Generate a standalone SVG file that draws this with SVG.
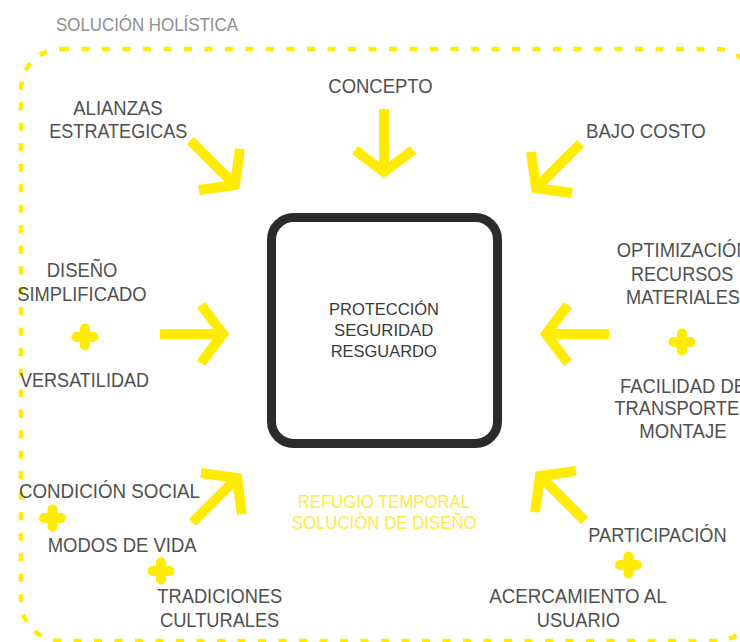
<svg xmlns="http://www.w3.org/2000/svg" xmlns:xlink="http://www.w3.org/1999/xlink" width="740" height="642" viewBox="0 0 740 642">
<style>
.lbl{font-family:"Liberation Sans",Arial,sans-serif;font-size:20px;fill:#505050;}
.box{font-family:"Liberation Sans",Arial,sans-serif;font-size:16.5px;fill:#3a3a3a;}
.ttl{font-family:"Liberation Sans",Arial,sans-serif;font-size:17.5px;fill:#8e8e8e;}
.ylw{font-family:"Liberation Sans",Arial,sans-serif;font-size:18.5px;fill:#FFE94A;}
.arr{fill:none;stroke:#FFEC00;stroke-width:10;stroke-linejoin:miter;stroke-miterlimit:4;}
.pls{fill:none;stroke:#FFEC00;stroke-width:10;stroke-linecap:round;}
</style>
<defs>
<path id="arw" class="arr" d="M-63,0H0M-22,-29L0,0L-22,29"/>
<path id="plus" class="pls" d="M-8.5,0H8.5M0,-8.5V8.5"/>
</defs>
<rect width="740" height="642" fill="#ffffff"/>
<g id="frame">
<rect x="21" y="49" width="735" height="592" rx="40" fill="none" stroke="#FFEC00" stroke-width="4.5" stroke-dasharray="8 12.5"/>
<text class="ttl" x="56" y="31" textLength="182" lengthAdjust="spacingAndGlyphs">SOLUCIÓN HOLÍSTICA</text>
</g>
<g id="center">
<rect x="271.5" y="217.5" width="226" height="226" rx="22" fill="#ffffff" stroke="#2b2b2b" stroke-width="9"/>
<text class="box" x="329" y="315" textLength="110" lengthAdjust="spacingAndGlyphs">PROTECCIÓN</text>
<text class="box" x="334" y="336" textLength="99.3" lengthAdjust="spacingAndGlyphs">SEGURIDAD</text>
<text class="box" x="330.7" y="357" textLength="106" lengthAdjust="spacingAndGlyphs">RESGUARDO</text>
<text class="ylw" x="297.7" y="508.3" textLength="172.3" lengthAdjust="spacingAndGlyphs">REFUGIO TEMPORAL</text>
<text class="ylw" x="291.7" y="529.3" textLength="185" lengthAdjust="spacingAndGlyphs">SOLUCIÓN DE DISEÑO</text>
</g>
<g id="concepto">
<text class="lbl" x="328.3" y="92.7" textLength="104.4" lengthAdjust="spacingAndGlyphs">CONCEPTO</text>
</g>
<g id="alianzas">
<text class="lbl" x="73.3" y="115" textLength="89.3" lengthAdjust="spacingAndGlyphs">ALIANZAS</text>
<text class="lbl" x="49.3" y="138.3" textLength="138" lengthAdjust="spacingAndGlyphs">ESTRATEGICAS</text>
</g>
<g id="bajo-costo">
<text class="lbl" x="586" y="138.3" textLength="119.7" lengthAdjust="spacingAndGlyphs">BAJO COSTO</text>
</g>
<g id="diseno">
<text class="lbl" x="46.7" y="276.7" textLength="70.7" lengthAdjust="spacingAndGlyphs">DISEÑO</text>
<text class="lbl" x="17.3" y="300.7" textLength="129.3" lengthAdjust="spacingAndGlyphs">SIMPLIFICADO</text>
<use xlink:href="#plus" href="#plus" x="85" y="337"/>
<text class="lbl" x="20" y="387.3" textLength="129" lengthAdjust="spacingAndGlyphs">VERSATILIDAD</text>
</g>
<g id="optimizacion">
<text class="lbl" x="616.7" y="256.7" textLength="133" lengthAdjust="spacingAndGlyphs">OPTIMIZACIÓN</text>
<text class="lbl" x="631" y="281" textLength="102.3" lengthAdjust="spacingAndGlyphs">RECURSOS</text>
<text class="lbl" x="626" y="304" textLength="114" lengthAdjust="spacingAndGlyphs">MATERIALES</text>
<use xlink:href="#plus" href="#plus" x="682" y="342"/>
<text class="lbl" x="620" y="392.7" textLength="126" lengthAdjust="spacingAndGlyphs">FACILIDAD DE</text>
<text class="lbl" x="614.3" y="415" textLength="142" lengthAdjust="spacingAndGlyphs">TRANSPORTE Y</text>
<text class="lbl" x="639.3" y="438.3" textLength="87.3" lengthAdjust="spacingAndGlyphs">MONTAJE</text>
</g>
<g id="condicion">
<text class="lbl" x="19" y="498.3" textLength="181" lengthAdjust="spacingAndGlyphs">CONDICIÓN SOCIAL</text>
<use xlink:href="#plus" href="#plus" x="52.5" y="518"/>
<text class="lbl" x="47.7" y="551.7" textLength="149" lengthAdjust="spacingAndGlyphs">MODOS DE VIDA</text>
<use xlink:href="#plus" href="#plus" x="161" y="571"/>
<text class="lbl" x="157.3" y="603.3" textLength="125" lengthAdjust="spacingAndGlyphs">TRADICIONES</text>
<text class="lbl" x="160" y="626.7" textLength="119.3" lengthAdjust="spacingAndGlyphs">CULTURALES</text>
</g>
<g id="participacion">
<text class="lbl" x="588.3" y="541.7" textLength="138.3" lengthAdjust="spacingAndGlyphs">PARTICIPACIÓN</text>
<use xlink:href="#plus" href="#plus" x="628.5" y="565"/>
<text class="lbl" x="489.3" y="603.3" textLength="177.3" lengthAdjust="spacingAndGlyphs">ACERCAMIENTO AL</text>
<text class="lbl" x="536.7" y="626.7" textLength="83.3" lengthAdjust="spacingAndGlyphs">USUARIO</text>
</g>
<g id="connectors">
<use xlink:href="#arw" href="#arw" transform="translate(235,185) rotate(45)"/>
<use xlink:href="#arw" href="#arw" transform="translate(384,172) rotate(90)"/>
<use xlink:href="#arw" href="#arw" transform="translate(536,188) rotate(135)"/>
<use xlink:href="#arw" href="#arw" transform="translate(223,334)"/>
<use xlink:href="#arw" href="#arw" transform="translate(546,334) rotate(180)"/>
<use xlink:href="#arw" href="#arw" transform="translate(237,478) rotate(-45)"/>
<use xlink:href="#arw" href="#arw" transform="translate(540,476) rotate(-135)"/>
</g>
</svg>
